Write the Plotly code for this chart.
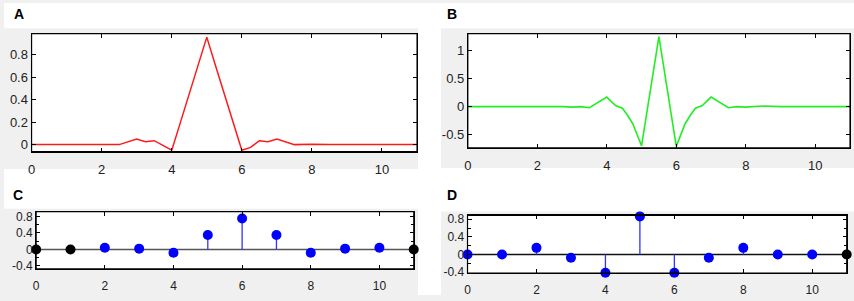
import plotly.graph_objects as go

W, H = 854, 301

# ---------------- data ----------------
a_x = [0, 1, 2, 2.5, 3, 3.25, 3.5, 4, 4.25, 4.5, 4.75, 5, 5.25, 5.5, 5.75, 6,
       6.25, 6.5, 6.75, 7, 7.5, 8, 8.5, 9, 10, 11]
a_y = [0, 0, 0.003, 0.0, 0.05, 0.025, 0.035, -0.05, 0.2, 0.45, 0.7, 0.955,
       0.7, 0.45, 0.2, -0.05, -0.025, 0.035, 0.025, 0.05, 0.0, 0.004, 0.0, 0, 0, 0]

b_x = [0, 1, 2, 2.5, 2.75, 3, 3.25, 3.5, 4, 4.25, 4.45, 4.6, 4.75, 5, 5.5, 6,
       6.25, 6.4, 6.55, 6.75, 7, 7.5, 7.75, 8, 8.25, 8.5, 9, 10, 11]
b_y = [0, 0, 0, 0.01, 0.0, -0.01, 0.0, -0.02, 0.17, 0.02, -0.03, -0.16, -0.31,
       -0.7, 1.25, -0.71, -0.31, -0.16, -0.03, 0.02, 0.17, -0.02, 0.0, -0.01,
       0.0, 0.01, 0, 0, 0]

n_x = [0, 1, 2, 3, 4, 5, 6, 7, 8, 9, 10, 11]
c_y = [0, 0, 0.04, 0.02, -0.08, 0.35, 0.75, 0.35, -0.08, 0.02, 0.04, 0]
d_y = [0, 0, 0.15, -0.075, -0.415, 0.865, -0.415, -0.075, 0.15, 0, 0, 0]
c_black_idx = [0, 1, 11]
d_black_idx = [11]

x_ticks = [0, 2, 4, 6, 8, 10]
a_yticks = [0, 0.2, 0.4, 0.6, 0.8]
b_yticks = [-0.5, 0, 0.5, 1]
cd_yticks = [-0.4, 0, 0.4, 0.8]


def fmt(v):
    return "%g" % v


def px_x(p):
    return p / W


def px_y(p):
    return 1 - p / H


fig = go.Figure()

# panel boxes in pixels: left, right, top, bottom
boxes = {
    "A": (27.7, 415.0, 31.7, 153.3),
    "B": (466.0, 850.0, 31.7, 149.3),
    "C": (32.3, 411.7, 215.0, 274.0),
    "D": (465.7, 846.7, 219.0, 278.3),
}
yranges = {
    "A": [-0.063, 0.985],
    "B": [-0.736, 1.30],
    "C": [-0.47, 0.92],
    "D": [-0.42, 0.886],
}
yticks = {"A": a_yticks, "B": b_yticks, "C": cd_yticks, "D": cd_yticks}
axis_ids = {"A": "", "B": "2", "C": "3", "D": "4"}

# traces
fig.add_trace(go.Scatter(x=a_x, y=a_y, mode="lines",
                         line=dict(color="#ff1a1a", width=1.5),
                         xaxis="x", yaxis="y", showlegend=False))
fig.add_trace(go.Scatter(x=b_x, y=b_y, mode="lines",
                         line=dict(color="#22ee22", width=1.6),
                         xaxis="x2", yaxis="y2", showlegend=False))


def stem(vals, black_idx, ax, base_color):
    sx, sy = [], []
    for xv, yv in zip(n_x, vals):
        sx += [xv, xv, None]
        sy += [0, yv, None]
    fig.add_trace(go.Scatter(x=[n_x[0], n_x[-1]], y=[0, 0], mode="lines",
                             line=dict(color=base_color, width=1.5),
                             xaxis="x" + ax, yaxis="y" + ax, showlegend=False,
                             cliponaxis=False))
    fig.add_trace(go.Scatter(x=sx, y=sy, mode="lines",
                             line=dict(color="#3333ff", width=1.3),
                             xaxis="x" + ax, yaxis="y" + ax, showlegend=False))
    colors = ["#000000" if i in black_idx else "#0000ff" for i in range(len(vals))]
    fig.add_trace(go.Scatter(x=n_x, y=vals, mode="markers",
                             marker=dict(color=colors, size=10, line=dict(width=0)),
                             xaxis="x" + ax, yaxis="y" + ax, showlegend=False,
                             cliponaxis=False))


stem(c_y, c_black_idx, "3", "#555555")
stem(d_y, d_black_idx, "4", "#111111")

layout = dict(
    width=W, height=H,
    margin=dict(l=0, r=0, t=0, b=0),
    paper_bgcolor="#f0f0f0", plot_bgcolor="white",
    font=dict(family="Liberation Sans, Arial, sans-serif", color="#222222"),
    showlegend=False,
)

shapes = []
for key, (l, r, t, b) in boxes.items():
    aid = axis_ids[key]
    fs = 13 if key in ("A", "B") else 12
    xa = dict(domain=[px_x(l), px_x(r)], range=[-0.001, 11.001], tickvals=x_ticks,
              ticktext=[fmt(v) for v in x_ticks],
              ticks="inside", ticklen=4, tickcolor="black", tickwidth=1,
              showline=True, linecolor="black", linewidth=1, mirror="ticks",
              showgrid=False, zeroline=False, tickfont=dict(size=fs),
              ticklabelstandoff=6,
              anchor="y" + aid, layer="above traces")
    ya = dict(domain=[px_y(b), px_y(t)], range=yranges[key],
              tickvals=yticks[key], ticktext=[fmt(v) for v in yticks[key]],
              ticks="inside", ticklen=4, tickcolor="black", tickwidth=1,
              showline=True, linecolor="black", linewidth=1, mirror="ticks",
              showgrid=False, zeroline=False, tickfont=dict(size=fs),
              anchor="x" + aid, layer="above traces")
    if key in ("C", "D"):
        ya["minor"] = dict(dtick=0.2, tick0=0, ticks="inside", ticklen=3,
                           tickcolor="black", showgrid=False)
    layout["xaxis" + aid] = xa
    layout["yaxis" + aid] = ya
    # explicit frame around each axes box
    shapes.append(dict(type="rect", xref="x%s domain" % aid, yref="y%s domain" % aid,
                       x0=0, x1=1, y0=0, y1=1, line=dict(color="black", width=1.2),
                       fillcolor="rgba(0,0,0,0)", layer="above"))

# white gaps between the gray figure backgrounds (pixels)
gaps = [(0, 854, 0, 26), (416, 439, 0, 301), (0, 439, 171, 212),
        (439, 854, 170, 215)]
for (l, r, t, b) in gaps:
    shapes.append(dict(type="rect", xref="paper", yref="paper",
                       x0=px_x(l), x1=px_x(r), y0=px_y(b), y1=px_y(t),
                       fillcolor="white", line=dict(width=0), layer="below"))
layout["shapes"] = shapes

labels = [("A", 15, 11), ("B", 450, 11), ("C", 14, 198), ("D", 450, 198)]
ann = []
for txt, x, y in labels:
    ann.append(dict(text="<b>%s</b>" % txt, x=px_x(x), y=px_y(y),
                    xref="paper", yref="paper", showarrow=False,
                    xanchor="center", yanchor="middle",
                    font=dict(size=14, color="black",
                              family="Liberation Sans, Arial, sans-serif")))
layout["annotations"] = ann

fig.update_layout(**layout)
fig.write_html(
    "out.html",
    config={"displayModeBar": False, "staticPlot": True},
    post_script=("document.documentElement.style.overflow='hidden';"
                 "document.body.style.margin='0';document.body.style.padding='0';"
                 "document.body.style.overflow='hidden';"),
)
